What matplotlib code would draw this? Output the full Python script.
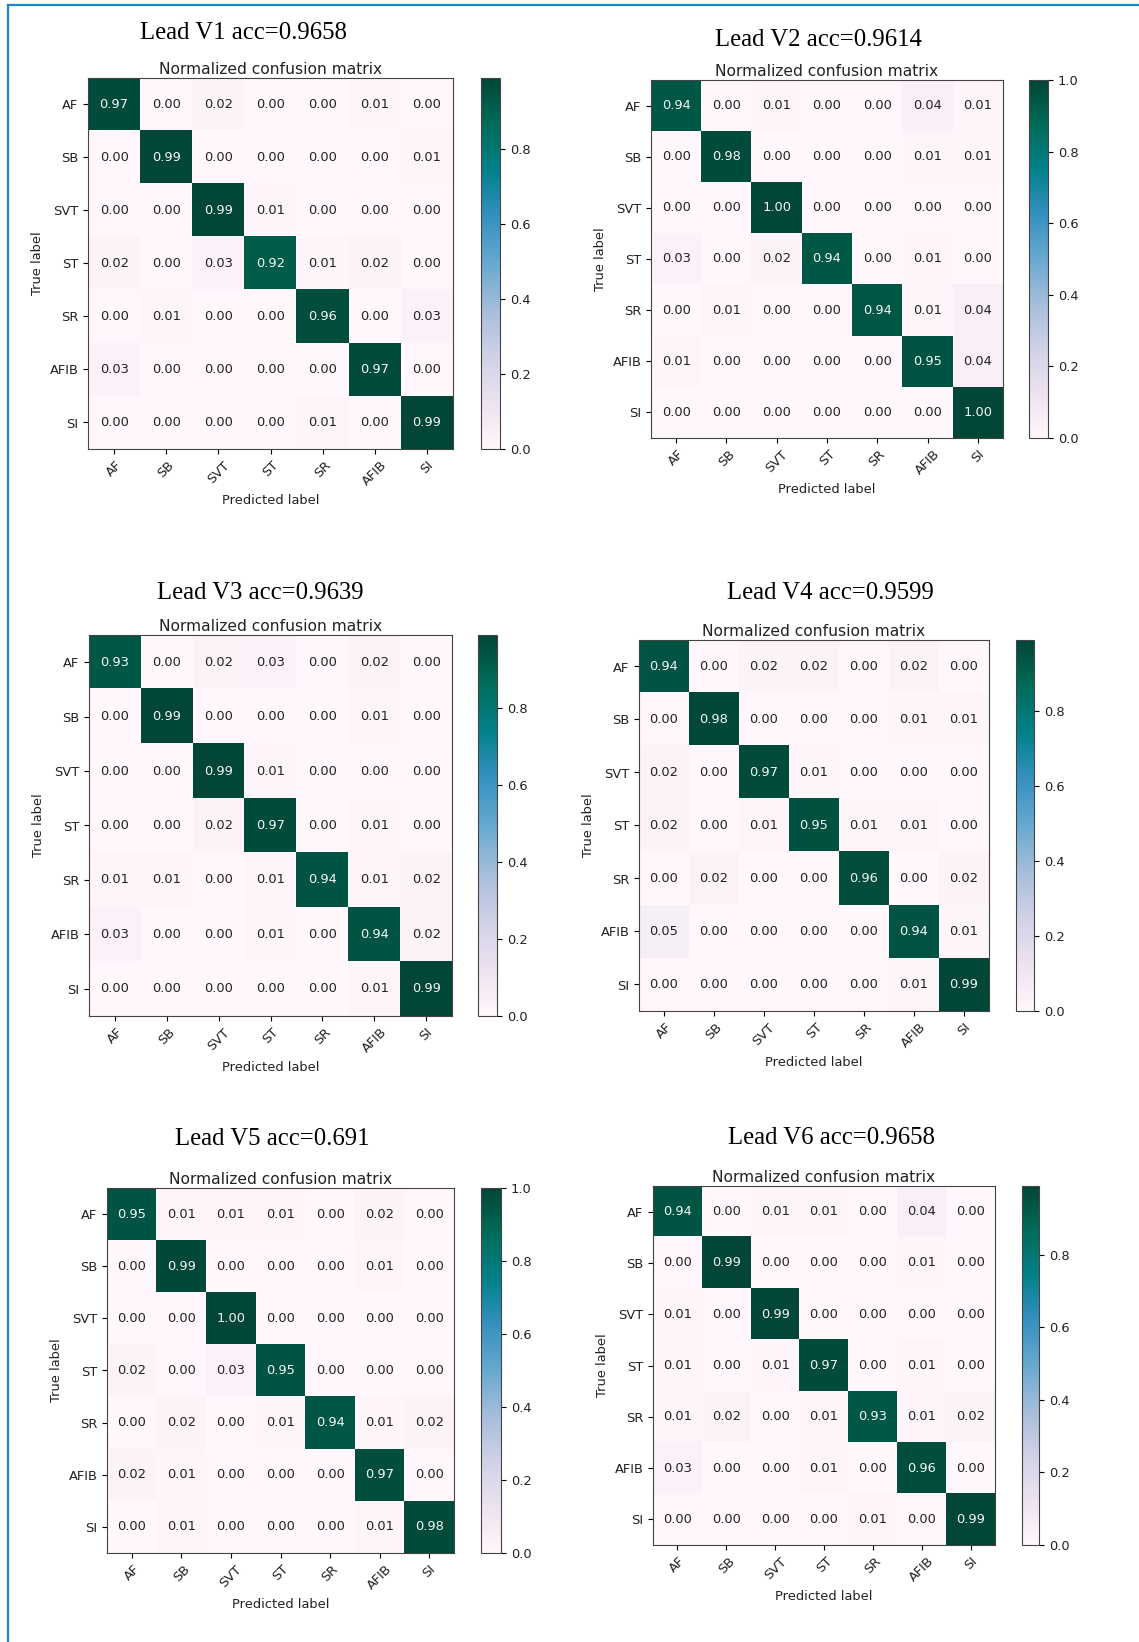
import numpy as np
import matplotlib
matplotlib.use('Agg')
import matplotlib.pyplot as plt
from matplotlib.lines import Line2D

classes = ['AF', 'SB', 'SVT', 'ST', 'SR', 'AFIB', 'SI']

cm_v1 = [[0.97, 0.00, 0.02, 0.00, 0.00, 0.01, 0.00],
         [0.00, 0.99, 0.00, 0.00, 0.00, 0.00, 0.01],
         [0.00, 0.00, 0.99, 0.01, 0.00, 0.00, 0.00],
         [0.02, 0.00, 0.03, 0.92, 0.01, 0.02, 0.00],
         [0.00, 0.01, 0.00, 0.00, 0.96, 0.00, 0.03],
         [0.03, 0.00, 0.00, 0.00, 0.00, 0.97, 0.00],
         [0.00, 0.00, 0.00, 0.00, 0.01, 0.00, 0.99]]

cm_v2 = [[0.94, 0.00, 0.01, 0.00, 0.00, 0.04, 0.01],
         [0.00, 0.98, 0.00, 0.00, 0.00, 0.01, 0.01],
         [0.00, 0.00, 1.00, 0.00, 0.00, 0.00, 0.00],
         [0.03, 0.00, 0.02, 0.94, 0.00, 0.01, 0.00],
         [0.00, 0.01, 0.00, 0.00, 0.94, 0.01, 0.04],
         [0.01, 0.00, 0.00, 0.00, 0.00, 0.95, 0.04],
         [0.00, 0.00, 0.00, 0.00, 0.00, 0.00, 1.00]]

cm_v3 = [[0.93, 0.00, 0.02, 0.03, 0.00, 0.02, 0.00],
         [0.00, 0.99, 0.00, 0.00, 0.00, 0.01, 0.00],
         [0.00, 0.00, 0.99, 0.01, 0.00, 0.00, 0.00],
         [0.00, 0.00, 0.02, 0.97, 0.00, 0.01, 0.00],
         [0.01, 0.01, 0.00, 0.01, 0.94, 0.01, 0.02],
         [0.03, 0.00, 0.00, 0.01, 0.00, 0.94, 0.02],
         [0.00, 0.00, 0.00, 0.00, 0.00, 0.01, 0.99]]

cm_v4 = [[0.94, 0.00, 0.02, 0.02, 0.00, 0.02, 0.00],
         [0.00, 0.98, 0.00, 0.00, 0.00, 0.01, 0.01],
         [0.02, 0.00, 0.97, 0.01, 0.00, 0.00, 0.00],
         [0.02, 0.00, 0.01, 0.95, 0.01, 0.01, 0.00],
         [0.00, 0.02, 0.00, 0.00, 0.96, 0.00, 0.02],
         [0.05, 0.00, 0.00, 0.00, 0.00, 0.94, 0.01],
         [0.00, 0.00, 0.00, 0.00, 0.00, 0.01, 0.99]]

cm_v5 = [[0.95, 0.01, 0.01, 0.01, 0.00, 0.02, 0.00],
         [0.00, 0.99, 0.00, 0.00, 0.00, 0.01, 0.00],
         [0.00, 0.00, 1.00, 0.00, 0.00, 0.00, 0.00],
         [0.02, 0.00, 0.03, 0.95, 0.00, 0.00, 0.00],
         [0.00, 0.02, 0.00, 0.01, 0.94, 0.01, 0.02],
         [0.02, 0.01, 0.00, 0.00, 0.00, 0.97, 0.00],
         [0.00, 0.01, 0.00, 0.00, 0.00, 0.01, 0.98]]

cm_v6 = [[0.94, 0.00, 0.01, 0.01, 0.00, 0.04, 0.00],
         [0.00, 0.99, 0.00, 0.00, 0.00, 0.01, 0.00],
         [0.01, 0.00, 0.99, 0.00, 0.00, 0.00, 0.00],
         [0.01, 0.00, 0.01, 0.97, 0.00, 0.01, 0.00],
         [0.01, 0.02, 0.00, 0.01, 0.93, 0.01, 0.02],
         [0.03, 0.00, 0.00, 0.01, 0.00, 0.96, 0.00],
         [0.00, 0.00, 0.00, 0.00, 0.01, 0.00, 0.99]]

leads = ['V1', 'V2', 'V3', 'V4', 'V5', 'V6']
accs = ['0.9658', '0.9614', '0.9639', '0.9599', '0.691', '0.9658']
matrices = [cm_v1, cm_v2, cm_v3, cm_v4, cm_v5, cm_v6]

W, H = 1139, 1642
fig = plt.figure(figsize=(W / 100, H / 100), dpi=100)

# pixel layout: axes (left, top, right, bottom), colorbar (left, right), title centre (x, y)
ax_box = [(88, 78, 453, 449), (651, 80, 1003, 438),
          (89, 635, 452, 1016), (639, 640, 989, 1011),
          (107, 1188, 454, 1553), (653, 1186, 995, 1545)]
cb_box = [(481, 500), (1029, 1048), (478, 497), (1016, 1034), (481, 501), (1022, 1039)]
title_pos = [(243, 33), (818, 40), (260, 593), (830, 593), (272, 1139), (832, 1138)]


def frac(l, t, r, b):
    return [l / W, 1 - b / H, (r - l) / W, (b - t) / H]


fs = 9.4
txt = '#222222'
for k in range(6):
    cm = np.array(matrices[k])
    l, t, r, b = ax_box[k]
    ax = fig.add_axes(frac(l, t, r, b))
    cax = fig.add_axes(frac(cb_box[k][0], t, cb_box[k][1], b))
    im = ax.imshow(cm, interpolation='nearest', cmap=plt.cm.PuBuGn, aspect='auto')
    cbar = fig.colorbar(im, cax=cax)
    cbar.ax.tick_params(labelsize=fs, labelcolor=txt)
    ax.set_title('Normalized confusion matrix', fontsize=11.2, pad=3, color=txt)
    ticks = np.arange(len(classes))
    ax.set_xticks(ticks)
    ax.set_xticklabels(classes, rotation=45, fontsize=fs, color=txt)
    ax.set_yticks(ticks)
    ax.set_yticklabels(classes, fontsize=fs, color=txt)
    thresh = cm.max() / 2.
    for i in range(cm.shape[0]):
        for j in range(cm.shape[1]):
            ax.text(j, i, format(cm[i, j], '.2f'), ha='center', va='center',
                    fontsize=fs, color='#f4f4f4' if cm[i, j] > thresh else txt)
    ax.set_ylabel('True label', fontsize=fs, color=txt)
    ax.set_xlabel('Predicted label', fontsize=fs, color=txt)
    for sp in list(ax.spines.values()) + list(cax.spines.values()):
        sp.set_edgecolor('#444444')
    fig.text(title_pos[k][0] / W, 1 - title_pos[k][1] / H,
             'Lead %s acc=%s' % (leads[k], accs[k]),
             ha='center', va='center', fontsize=17.8, family='Liberation Serif')

# blue frame lines (top and left only)
fig.add_artist(Line2D([7.5 / W, 1], [1 - 5.5 / H, 1 - 5.5 / H], color='#1c86c6', lw=1.6))
fig.add_artist(Line2D([7.5 / W, 7.5 / W], [0, 1 - 5.5 / H], color='#1c86c6', lw=1.6))

fig.savefig('out.png', dpi=100)
